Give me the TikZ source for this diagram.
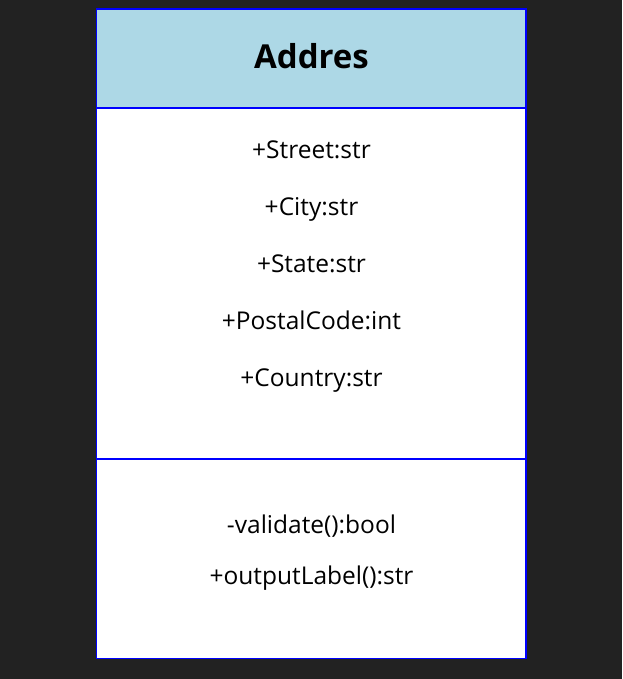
\documentclass[tikz,border=0pt]{standalone}
\usepackage{fontspec}
\setmainfont{Open Sans}
\definecolor{bgdark}{HTML}{222222}
\definecolor{headblue}{HTML}{ADD8E6}
\definecolor{lineblue}{HTML}{0000FF}
\begin{document}
\begin{tikzpicture}[x=1pt,y=-1pt,
  member/.style={font=\fontsize{24.5}{28}\selectfont, text=black, anchor=base, inner sep=0pt},
  title/.style={font=\bfseries\fontsize{33}{38}\selectfont, text=black, anchor=base, inner sep=0pt}]
\fill[bgdark] (0,0) rectangle (622,679);
\useasboundingbox (0,0) rectangle (622,679);
\fill[white] (96.5,9) rectangle (526,658.5);
\fill[headblue] (96.5,9) rectangle (526,108);
\draw[lineblue, line width=1.5pt] (96.5,9) rectangle (526,658.5);
\draw[lineblue, line width=1.5pt] (96.5,108) -- (526,108);
\draw[lineblue, line width=1.5pt] (96.5,459) -- (526,459);
\node[title] (t) at (311.5,69) {Addres};
\node[member] (a1) at (311.5,158) {+Street:str};
\node[member] (a2) at (311.5,215) {+City:str};
\node[member] (a3) at (311.5,272) {+State:str};
\node[member] (a4) at (311.5,329) {+PostalCode:int};
\node[member] (a5) at (311.5,386) {+Country:str};
\node[member] (m1) at (311.5,533) {-validate():bool};
\node[member] (m2) at (311.5,584) {+outputLabel():str};
\end{tikzpicture}
\end{document}
